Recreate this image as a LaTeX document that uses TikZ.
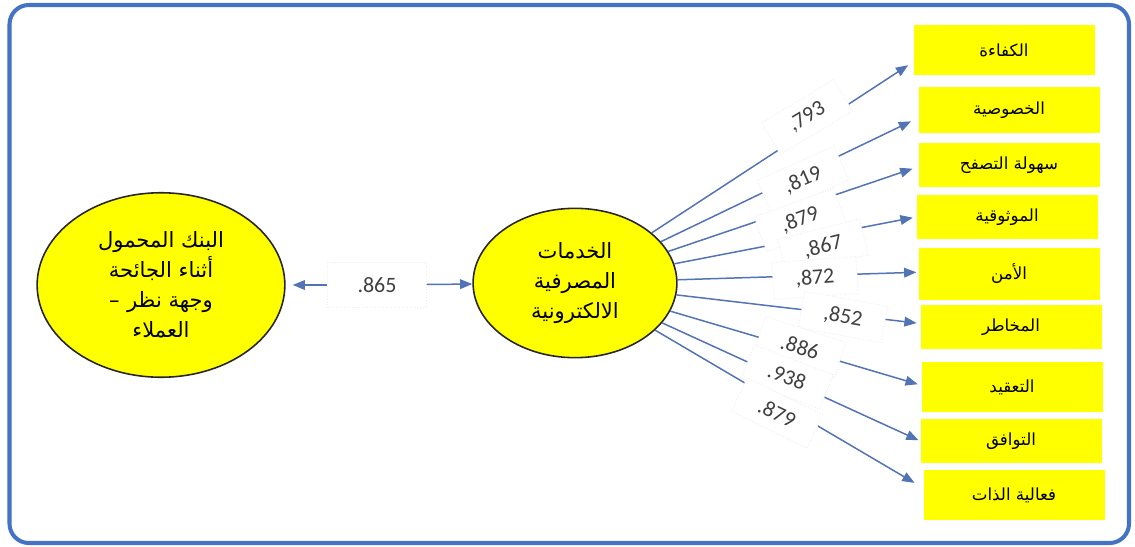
\documentclass[tikz,border=0pt]{standalone}
\usepackage{fontspec}
\setmainfont{Carlito}
\newfontfamily\arabicfont[Script=Arabic]{DejaVu Sans}
\TeXXeTstate=1
\usetikzlibrary{arrows.meta,shapes.geometric}
\definecolor{frameblue}{HTML}{4472C4}
\definecolor{arrblue}{HTML}{5273B4}
\definecolor{boxyellow}{HTML}{FFFF00}
\definecolor{numgray}{HTML}{404040}

\begin{document}
\begin{tikzpicture}[x=0.02cm, y=-0.02cm,
  latent/.style={ellipse, draw=black!85, line width=0.9pt, fill=boxyellow, inner sep=0pt,
    align=center, font=\arabicfont\fontsize{12}{17}\selectfont},
  itembox/.style={rectangle, fill=boxyellow, minimum width=103pt, inner sep=0pt,
    font=\arabicfont\fontsize{9.5}{12}\selectfont},
  numlab/.style={rectangle, fill=white, draw=black!7, densely dotted, line width=0.5pt,
    minimum width=48pt, minimum height=21pt, inner sep=1pt, text=numgray,
    font=\fontsize{12.5}{14}\selectfont},
  loadarr/.style={-{Triangle[length=7pt,width=5.5pt]}, line width=0.85pt, color=arrblue}]
  \useasboundingbox (0,0) rectangle (1135,547);
  \draw[frameblue, line width=2.3pt, rounded corners=11pt] (9.5,5) rectangle (1129,543);

  % latent variables
  \node[latent, minimum width=141pt, minimum height=105pt] (bank) at (161,285)
    {\beginR البنك المحمول\endR\\ \beginR أثناء الجائحة\endR\\
     \hbox{\hbox{–}\hspace{0.35em}\hbox{\beginR وجهة نظر\endR}}\\ \beginR العملاء\endR};
  \node[latent, minimum width=116pt, minimum height=85pt] (eserv) at (575,283)
    {\beginR الخدمات\endR\\ \beginR المصرفية\endR\\ \beginR الالكترونية\endR};

  % indicators
  \node[itembox, minimum height=29pt] (k1) at (1004,50) {\beginR الكفاءة\endR};
  \node[itembox, minimum height=26pt] (k2) at (1009,110) {\beginR الخصوصية\endR};
  \node[itembox, minimum height=25pt] (k3) at (1009,165) {\beginR سهولة التصفح\endR};
  \node[itembox, minimum height=25.6pt] (k4) at (1007,217) {\beginR الموثوقية\endR};
  \node[itembox, minimum height=29.6pt] (k5) at (1009,274) {\beginR الأمن\endR};
  \node[itembox, minimum height=25.6pt] (k6) at (1011,327) {\beginR المخاطر\endR};
  \node[itembox, minimum height=28.5pt] (k7) at (1012,387) {\beginR التعقيد\endR};
  \node[itembox, minimum height=25.6pt] (k8) at (1011,441) {\beginR التوافق\endR};
  \node[itembox, minimum height=28.5pt] (k9) at (1014,495) {\beginR فعالية الذات\endR};

  % correlation
  \node[numlab, minimum width=56pt, minimum height=26pt] (r0) at (377,285) {.865};
  \draw[loadarr, shorten >=4pt] (r0) -- (bank);
  \draw[loadarr] (r0) -- (eserv);

  % loadings
  \draw[loadarr, shorten >=3.4pt] (eserv) -- ([yshift=-6.8pt]k1.west);
  \draw[loadarr, shorten >=4.5pt] (eserv) -- ([yshift=-4.5pt]k2.west);
  \draw[loadarr, shorten >=3.4pt] (eserv) -- ([yshift=-1pt]k3.west);
  \draw[loadarr, shorten >=2pt] (eserv) -- (k4.west);
  \draw[loadarr, shorten >=1pt] (eserv) -- ([yshift=1pt]k5.west);
  \draw[loadarr, shorten >=2pt] (eserv) -- ([yshift=2pt]k6.west);
  \draw[loadarr, shorten >=2pt] (eserv) -- ([yshift=1pt]k7.west);
  \draw[loadarr, shorten >=1pt] (eserv) -- (k8.west);
  \draw[loadarr, shorten >=5.7pt] (eserv) -- ([yshift=4pt]k9.west);

  \node[numlab, rotate=31] (l1) at (807,117) {,793};
  \node[numlab, rotate=24] (l2) at (803,180) {,819};
  \node[numlab, rotate=20] (l3) at (800,220) {,879};
  \node[numlab, rotate=14] (l4) at (823,247) {,867};
  \node[numlab, rotate=4] (l5) at (815,278) {,872};
  \node[numlab, rotate=-10] (l6) at (843,317) {,852};
  \node[numlab, rotate=-18] (l7) at (800,347) {.886};
  \node[numlab, rotate=-21] (l8) at (787,377) {.938};
  \node[numlab, rotate=-26] (l9) at (777,413) {.879};
\end{tikzpicture}
\end{document}
